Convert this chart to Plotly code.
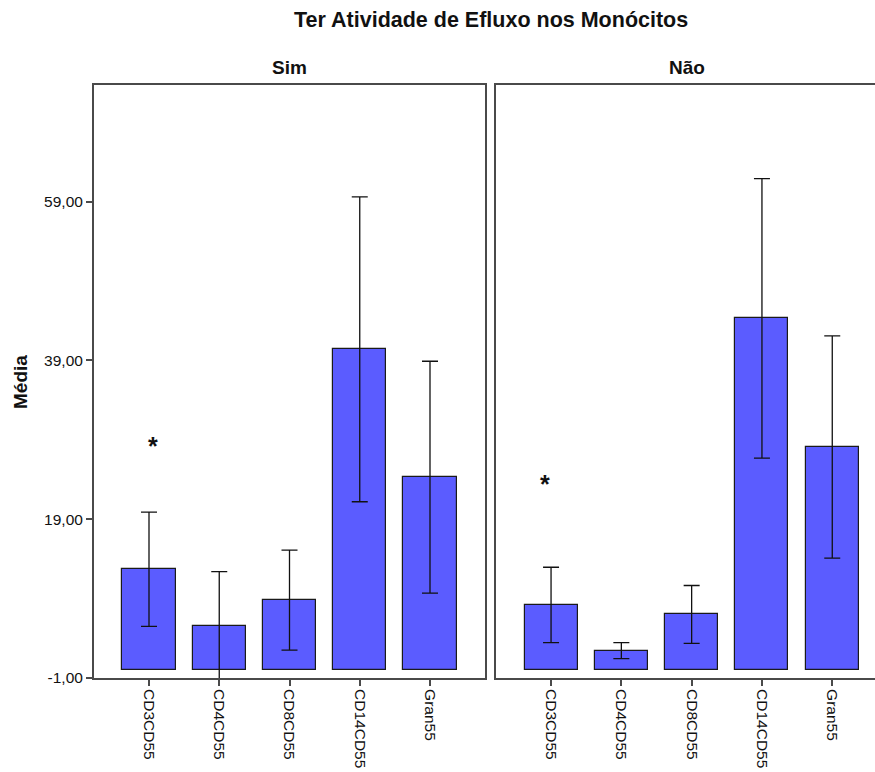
import plotly.graph_objects as go

# Categories shared by both panels
categories = ["CD3CD55", "CD4CD55", "CD8CD55", "CD14CD55", "Gran55"]

# Panel "Sim": group means and error half-widths
sim_means = [12.7, 5.6, 8.8, 40.4, 24.3]
sim_errors = [7.2, 6.8, 6.3, 19.2, 14.6]

# Panel "Não": group means and error half-widths
nao_means = [8.2, 2.45, 7.0, 44.3, 28.1]
nao_errors = [4.75, 1.0, 3.65, 17.6, 14.0]

# Outlier asterisk markers (category, value) per panel
sim_star = ("CD3CD55", 29.0)
nao_star = ("CD3CD55", 24.2)

# Y-axis ticks and their labels (decimal comma, plain hyphen for negatives)
y_ticks = [-1, 19, 39, 59]
y_tick_labels = ["-1,00", "19,00", "39,00", "59,00"]
y_range = [-1, 73.7]

BAR_COLOR = "#5b5cff"
LINE_COLOR = "#4a4a4a"
FONT = "Liberation Sans, Arial, sans-serif"

fig = go.Figure()

for means, errors, xa, ya in [
    (sim_means, sim_errors, "x", "y"),
    (nao_means, nao_errors, "x2", "y2"),
]:
    fig.add_trace(go.Bar(
        x=categories, y=means, xaxis=xa, yaxis=ya,
        width=0.755,
        marker=dict(color=BAR_COLOR, line=dict(color="#1a1a1a", width=1.2)),
        error_y=dict(type="data", array=errors, visible=True,
                     color="#111111", thickness=1.3, width=8),
        showlegend=False, hoverinfo="skip",
    ))

for (cat, val), xa, ya, shift in [
    (sim_star, "x", "y", 4),
    (nao_star, "x2", "y2", -6),
]:
    fig.add_annotation(
        x=cat, y=val, xref=xa, yref=ya, text="<b>*</b>", showarrow=False,
        xshift=shift, yshift=-6, yanchor="middle",
        font=dict(family=FONT, size=25, color="#111111"),
    )

W, H = 875, 772
L, R, T, B = 94, 0, 85, 94
plot_w = W - L - R
plot_h = H - T - B
d1_end = (485 - L) / plot_w
d2_start = (496 - L) / plot_w

axis_common = dict(
    showgrid=False, zeroline=False, showline=True,
    linecolor=LINE_COLOR, linewidth=2,
)
tick_font = dict(size=15.5, family=FONT, color="#111111")

fig.update_layout(
    width=W, height=H,
    margin=dict(l=L, r=R, t=T, b=B),
    paper_bgcolor="white", plot_bgcolor="white",
    bargap=0,
    font=dict(family=FONT, color="#111111"),
    xaxis=dict(domain=[0, d1_end], anchor="y", range=[-0.783, 4.783],
               mirror=True, ticks="outside", ticklen=6, tickwidth=1.5,
               tickcolor=LINE_COLOR, tickangle=90, tickfont=tick_font,
               **axis_common),
    yaxis=dict(domain=[0, 1], anchor="x", range=y_range,
               tickvals=y_ticks, ticktext=y_tick_labels,
               mirror=True, ticks="outside", ticklen=6, tickwidth=1.5,
               tickcolor=LINE_COLOR, tickfont=tick_font,
               **axis_common),
    xaxis2=dict(domain=[d2_start, 1], anchor="y2", range=[-0.783, 4.608],
                mirror=True, ticks="outside", ticklen=6, tickwidth=1.5,
                tickcolor=LINE_COLOR, tickangle=90, tickfont=tick_font,
                **axis_common),
    yaxis2=dict(domain=[0, 1], anchor="x2", range=y_range,
                showticklabels=False, ticks="", mirror=False,
                **axis_common),
)

def paper_y(py):
    return (H - B - py) / plot_h

def paper_x(px):
    return (px - L) / plot_w

fig.add_annotation(
    text="<b>Ter Atividade de Efluxo nos Monócitos</b>",
    xref="paper", yref="paper", x=paper_x(491), y=paper_y(20),
    xanchor="center", yanchor="middle", showarrow=False,
    font=dict(size=21.5, family=FONT, color="#111111"),
)
for label, cx in [("Sim", 289.5), ("Não", 687)]:
    fig.add_annotation(
        text=f"<b>{label}</b>",
        xref="paper", yref="paper", x=paper_x(cx), y=paper_y(67),
        xanchor="center", yanchor="middle", showarrow=False,
        font=dict(size=19, family=FONT, color="#111111"),
    )
fig.add_annotation(
    text="<b>Média</b>", textangle=-90,
    xref="paper", yref="paper", x=paper_x(20), y=paper_y(382),
    xanchor="center", yanchor="middle", showarrow=False,
    font=dict(size=19, family=FONT, color="#111111"),
)

fig.write_html("out.html")
